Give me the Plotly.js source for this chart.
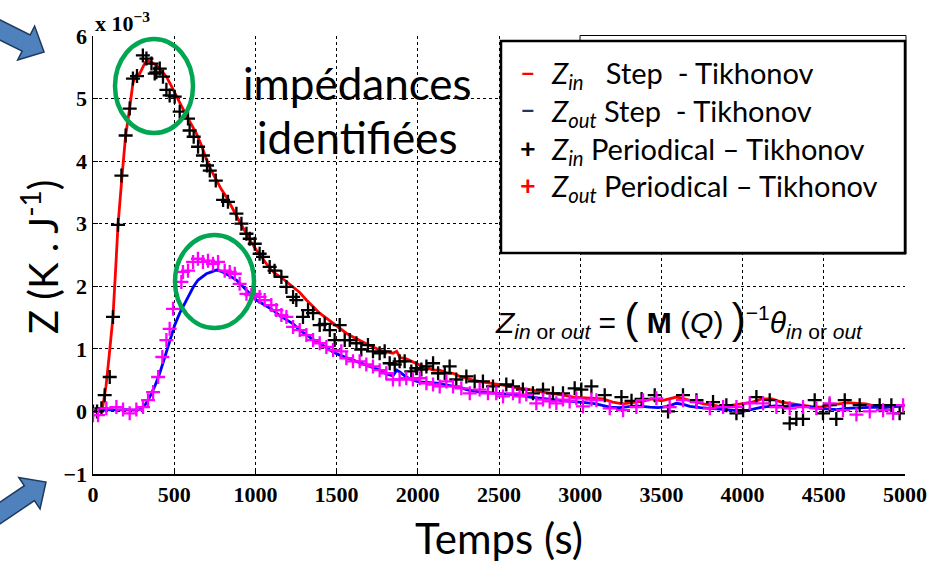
<!DOCTYPE html>
<html><head><meta charset="utf-8">
<script src="https://cdn.plot.ly/plotly-3.0.1.min.js"></script>
<style>html,body{margin:0;padding:0;background:#fff}#chart{width:944px;height:565px}</style>
</head><body><div id="chart"></div>
<script>
// ---- data (Z values in units of 1e-3 K/J) ----
const zinStepT = [0,40,60,80,100,123,140,154,179,201,226,246,267,288,310,329,360,390,420,452,483,514,545,575,606,637,668,698,729,760,790,821,852,883,914,945,975,1006,1037,1068,1098,1129,1160,1191,1232,1273,1314,1355,1396,1437,1478,1519,1560,1601,1642,1683,1725,1766,1806,1847,1870,1890,1930,1970,2012,2053,2094,2135,2176,2217,2258,2299,2340,2401,2463,2525,2586,2647,2709,2771,2833,2894,2956,3017,3079,3140,3200,3260,3320,3380,3440,3500,3593,3640,3700,3760,3820,3878,3940,4000,4060,4120,4180,4240,4300,4360,4420,4480,4540,4600,4650,4701,4760,4820,4880,4940,5000];
const zinStepZ = [0.0,0.02,0.08,0.4,0.9,1.51,2.3,2.98,3.77,4.41,4.85,5.25,5.38,5.40,5.52,5.61,5.58,5.53,5.45,5.35,5.2,5.03,4.88,4.73,4.58,4.44,4.25,4.03,3.85,3.69,3.55,3.43,3.28,3.11,2.98,2.84,2.70,2.58,2.46,2.36,2.26,2.19,2.14,2.07,1.99,1.90,1.78,1.67,1.57,1.49,1.41,1.33,1.25,1.19,1.13,1.08,1.03,0.98,0.95,0.93,0.96,0.86,0.84,0.79,0.74,0.70,0.66,0.66,0.62,0.61,0.56,0.53,0.50,0.47,0.45,0.42,0.39,0.37,0.34,0.31,0.29,0.26,0.23,0.22,0.21,0.20,0.15,0.12,0.14,0.16,0.20,0.17,0.23,0.20,0.15,0.12,0.10,0.07,0.10,0.12,0.15,0.20,0.20,0.15,0.12,0.10,0.08,0.07,0.10,0.12,0.14,0.13,0.12,0.08,0.07,0.08,0.10];

const zoutStepT = [0,50,100,150,200,250,288,320,349,380,411,440,472,503,534,565,595,620,647,670,698,730,760,790,821,852,883,914,945,975,1006,1057,1108,1150,1191,1232,1273,1314,1355,1396,1437,1478,1519,1560,1601,1642,1683,1725,1766,1806,1847,1870,1889,1930,1970,2012,2053,2094,2135,2176,2217,2258,2299,2340,2381,2440,2504,2565,2627,2690,2750,2810,2873,2935,2996,3040,3079,3130,3182,3240,3300,3350,3428,3480,3540,3593,3640,3675,3740,3800,3860,3900,4003,4060,4120,4200,4260,4331,4400,4470,4520,4578,4640,4700,4760,4820,4865,4930,4988];
const zoutStepZ = [0.0,0.02,0.03,0.02,0.03,0.02,0.03,0.1,0.23,0.4,0.61,0.85,1.14,1.38,1.57,1.73,1.88,2.0,2.10,2.15,2.20,2.23,2.26,2.24,2.20,2.15,2.10,2.02,1.94,1.86,1.78,1.70,1.62,1.53,1.46,1.40,1.30,1.22,1.15,1.09,1.02,0.95,0.90,0.86,0.82,0.79,0.74,0.70,0.66,0.60,0.57,0.66,0.63,0.55,0.50,0.47,0.46,0.45,0.45,0.42,0.40,0.39,0.35,0.33,0.31,0.30,0.29,0.27,0.26,0.23,0.21,0.20,0.18,0.16,0.15,0.14,0.13,0.10,0.07,0.06,0.08,0.09,0.07,0.06,0.08,0.13,0.11,0.08,0.06,0.05,0.03,0.03,0.0,0.04,0.07,0.09,0.08,0.10,0.07,0.05,0.04,0.03,0.05,0.06,0.06,0.07,0.06,0.07,0.09];

const zinPerT = [0,25,52,72,103,123,154,175,201,226,
  246,271,307,329,360,380,390,411,431,452,
  472,503,534,585,595,620,647,677,702,719,
  756,801,831,883,914,945,965,996,1026,1047,
  1088,1118,1160,1191,1232,1252,1293,1324,1355,1396,
  1427,1458,1488,1519,1550,1581,1622,1652,1693,1724,
  1765,1796,1827,1858,1888,1919,1960,1991,2022,2053,
  2094,2125,2166,2196,2237,2299,2350,2401,2463,2545,
  2586,2647,2709,2771,2832,2894,2966,3007,3069,3151,
  3254,3316,3378,3459,3541,3633,3716,3818,3900,3962,
  4003,4085,4167,4249,4290,4331,4372,4444,4495,4536,
  4577,4629,4721,4844,4916,4967,5008];
const zinPerZ = [0.0,0.0,0.05,0.26,0.55,1.51,2.98,3.77,4.41,4.84,
  5.32,5.36,5.69,5.64,5.56,5.40,5.42,5.48,5.35,5.14,
  5.05,5.03,4.79,4.68,4.49,4.39,4.23,4.09,3.93,3.85,
  3.69,3.38,3.35,3.16,3.0,2.84,2.76,2.68,2.52,2.47,
  2.31,2.25,2.15,1.99,1.83,1.78,1.51,1.62,1.57,1.38,
  1.40,1.30,1.14,1.38,1.14,1.14,1.09,0.99,1.06,0.96,
  0.93,0.96,0.77,0.75,0.80,0.80,0.64,0.69,0.67,0.72,
  0.77,0.61,0.61,0.72,0.51,0.56,0.48,0.48,0.40,0.43,
  0.40,0.35,0.29,0.35,0.29,0.29,0.37,0.35,0.40,0.26,
  0.23,0.17,0.20,0.26,0.0,0.26,0.18,0.15,0.10,-0.03,
  0.02,0.23,0.18,0.07,-0.19,-0.12,-0.12,0.18,-0.03,0.10,
  -0.12,0.18,0.10,0.10,0.10,-0.03,0.10];

const zoutPerT = [0,31,82,144,185,226,267,308,339,370,
  401,427,452,472,493,544,554,585,616,646,
  677,708,739,770,811,842,873,903,945,975,
  996,1026,1057,1098,1129,1160,1191,1232,1273,1314,
  1355,1396,1437,1478,1529,1560,1601,1642,1683,1724,
  1765,1806,1847,1888,1929,1970,2012,2053,2094,2135,
  2176,2217,2268,2320,2381,2432,2483,2525,2586,2627,
  2668,2730,2771,2812,2853,2894,2935,2976,3017,3069,
  3100,3182,3264,3346,3387,3469,3551,3633,3716,3798,
  3880,3962,4044,4126,4208,4290,4372,4454,4536,4618,
  4701,4783,4865,4927,4988];
const zoutPerZ = [-0.06,-0.06,0.05,0.07,0.03,-0.03,0.03,0.07,0.18,0.31,
  0.55,0.87,1.14,1.32,1.64,2.07,2.23,2.25,2.39,2.44,
  2.39,2.41,2.36,2.39,2.25,2.23,2.20,2.04,1.88,1.86,
  1.88,1.83,1.78,1.70,1.62,1.54,1.51,1.35,1.30,1.22,
  1.14,1.09,1.03,0.98,0.96,0.85,0.80,0.80,0.75,0.72,
  0.66,0.61,0.51,0.51,0.53,0.51,0.53,0.45,0.43,0.40,
  0.48,0.40,0.37,0.29,0.35,0.29,0.29,0.24,0.29,0.24,
  0.27,0.13,0.19,0.16,0.13,0.19,0.16,0.21,0.08,0.19,
  0.18,0.05,0.02,0.07,0.18,0.21,0.07,0.18,0.15,0.05,
  0.07,0.07,0.13,0.13,0.07,0.05,0.07,0.05,0.13,0.02,
  -0.05,0.0,0.02,-0.03,0.10];

const xTicks = [0,500,1000,1500,2000,2500,3000,3500,4000,4500,5000];
const yTicks = [-1,0,1,2,3,4,5,6];

const legendLabels = [
  "<i>Z</i><sub><i>in</i></sub>\u00a0\u00a0\u00a0Step\u00a0\u00a0- Tikhonov",
  "<i>Z</i><sub><i>out</i></sub> Step\u00a0\u00a0- Tikhonov",
  "<i>Z</i><sub><i>in</i></sub> Periodical \u2013 Tikhonov",
  "<i>Z</i><sub><i>out</i></sub> Periodical \u2013 Tikhonov"
];
const legendSymbols = ["\u2013","\u2013","+","+"];

// ---- layout geometry (pixels) ----
const L = 93, R = 39, T = 36, Bm = 91, FW = 944, FH = 565;
const W = FW - L - R, H = FH - T - Bm, BOT = FH - Bm;
const px = x => (x - L) / W;
const py = y => (BOT - y) / H;

const sans = "Lato, 'Open Sans', sans-serif";
const serif = "Liberation Serif, DejaVu Serif, serif";

function ann(text, x, y, o) {
  return Object.assign({text: text, xref: 'paper', yref: 'paper', x: px(x), y: py(y),
    showarrow: false, xanchor: 'center', yanchor: 'middle',
    font: {family: sans, size: 25, color: '#000'}}, o || {});
}
function arrowPath(tipX, tipY, dx, dy, headLen, headHalf, shaftHalf, tailLen) {
  const n = Math.hypot(dx, dy); dx /= n; dy /= n;
  const nx = -dy, ny = dx;
  const bx = tipX - headLen * dx, by = tipY - headLen * dy;
  const tx = bx - tailLen * dx, ty = by - tailLen * dy;
  const pts = [[tipX, tipY], [bx + headHalf * nx, by + headHalf * ny], [bx + shaftHalf * nx, by + shaftHalf * ny],
    [tx + shaftHalf * nx, ty + shaftHalf * ny], [tx - shaftHalf * nx, ty - shaftHalf * ny],
    [bx - shaftHalf * nx, by - shaftHalf * ny], [bx - headHalf * nx, by - headHalf * ny]];
  return 'M' + pts.map(p => px(p[0]).toFixed(4) + ',' + py(p[1]).toFixed(4)).join(' L') + ' Z';
}

const traces = [
  {x: zinStepT, y: zinStepZ, type: 'scatter', mode: 'lines', line: {color: '#ff0000', width: 2.8}, showlegend: false},
  {x: zoutStepT, y: zoutStepZ, type: 'scatter', mode: 'lines', line: {color: '#0000ff', width: 2.8}, showlegend: false},
  {x: zinPerT, y: zinPerZ, type: 'scatter', mode: 'markers',
   marker: {symbol: 'cross-thin', size: 10, color: '#000', line: {color: '#000', width: 2.3}}, showlegend: false},
  {x: zoutPerT, y: zoutPerZ, type: 'scatter', mode: 'markers',
   marker: {symbol: 'cross-thin', size: 10, color: '#ff00ff', line: {color: '#ff00ff', width: 2.3}}, showlegend: false}
];

const shapes = [
  {type: 'rect', xref: 'paper', yref: 'paper', x0: px(218), x1: px(497), y0: py(177), y1: py(40),
   fillcolor: '#fff', line: {width: 0}, layer: 'between'},
  {type: 'rect', xref: 'paper', yref: 'paper', x0: px(580), x1: px(906), y0: py(254), y1: py(35.5),
   fillcolor: '#fff', line: {color: '#000', width: 1}, layer: 'above'},
  {type: 'rect', xref: 'paper', yref: 'paper', x0: px(501), x1: px(905), y0: py(253), y1: py(41),
   fillcolor: '#fff', line: {color: '#000', width: 2.5}, layer: 'above'},
  {type: 'circle', xref: 'paper', yref: 'paper', x0: px(115), x1: px(193), y0: py(133), y1: py(39),
   line: {color: '#00a651', width: 4.5}, layer: 'above'},
  {type: 'circle', xref: 'paper', yref: 'paper', x0: px(175), x1: px(254), y0: py(328), y1: py(235),
   line: {color: '#00a651', width: 4.5}, layer: 'above'},
  {type: 'path', xref: 'paper', yref: 'paper', path: arrowPath(44, 52, 0.894, 0.447, 20, 19, 9, 60),
   fillcolor: '#4f81bd', line: {color: '#1f3a5f', width: 1.5}, layer: 'above'},
  {type: 'path', xref: 'paper', yref: 'paper', path: arrowPath(46, 482, 0.83, -0.56, 20, 19, 9, 60),
   fillcolor: '#4f81bd', line: {color: '#1f3a5f', width: 1.5}, layer: 'above'}
];

const legendRowsY = [71, 109, 147, 184];
const legendSymColors = ['#ff0000', '#1f3864', '#000000', '#ff0000'];
const annotations = [
  ann('impédances', 357, 83, {font: {family: sans, size: 44, color: '#000'}}),
  ann('identifiées', 357, 137, {font: {family: sans, size: 44, color: '#000'}}),
  ann('<b>x 10<sup>\u22123</sup></b>', 93, 22, {xanchor: 'left', font: {family: serif, size: 22, color: '#000'}}),
  ann("<i>Z</i><sub><i>in</i> or <i>out</i></sub> = <span style='font-size:42px'>(</span> <b>M</b> (<i>Q</i>) <span style='font-size:42px'>)</span><sup>\u22121</sup><i>\u03b8</i><sub><i>in</i> or <i>out</i></sub>",
      679, 319, {font: {family: "Liberation Sans, Arial, sans-serif", size: 30, color: '#000'}}),
  ann('Z\u00a0(K\u00a0.\u00a0J<sup>-1</sup>)', 40, 257, {textangle: -90, font: {family: sans, size: 40, color: '#000'}})
];
legendLabels.forEach((lab, i) => {
  annotations.push(ann('<b>' + legendSymbols[i] + '</b>', 528, legendRowsY[i],
    {font: {family: sans, size: 27, color: legendSymColors[i]}}));
  annotations.push(ann(lab, 549, legendRowsY[i] + 3, {xanchor: 'left', font: {family: sans, size: 29, color: '#000'}}));
});

const layout = {
  width: FW, height: FH,
  margin: {l: L, r: R, t: T, b: Bm, pad: 0},
  paper_bgcolor: '#fff', plot_bgcolor: '#fff',
  showlegend: false,
  xaxis: {range: [0, 5000], tickvals: xTicks, ticktext: xTicks.map(v => '<b>' + v + '</b>'),
    showgrid: true, gridcolor: '#000', griddash: 'dot', gridwidth: 1,
    showline: true, linecolor: '#000', linewidth: 1.5, mirror: false, zeroline: false,
    ticks: 'inside', ticklen: 5, tickcolor: '#000', tickwidth: 1,
    tickfont: {family: serif, size: 22, color: '#000'},
    title: {text: 'Temps (s)', font: {family: sans, size: 42, color: '#000'}, standoff: 18}},
  yaxis: {range: [-1, 6], tickvals: yTicks, ticktext: yTicks.map(v => '<b>' + (v < 0 ? '\u2212' + Math.abs(v) : String(v)) + '</b>'),
    showgrid: true, gridcolor: '#000', griddash: 'dot', gridwidth: 1,
    showline: true, linecolor: '#000', linewidth: 1.5, mirror: false, zeroline: false,
    ticks: 'inside', ticklen: 5, tickcolor: '#000', tickwidth: 1,
    tickfont: {family: serif, size: 22, color: '#000'}},
  shapes: shapes,
  annotations: annotations
};

Plotly.newPlot('chart', traces, layout, {displayModeBar: false, staticPlot: true});
</script></body></html>
